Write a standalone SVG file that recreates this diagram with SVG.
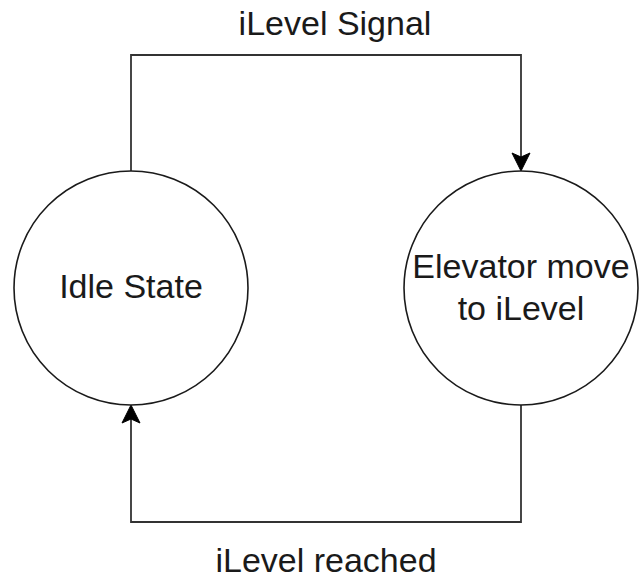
<svg xmlns="http://www.w3.org/2000/svg" width="639" height="582" viewBox="0 0 639 582">
<style>
.node{fill:#fff;stroke:#1a1a1a;stroke-width:1.6}
.edge{fill:none;stroke:#333;stroke-width:1.8}
.head{fill:#000;stroke:#000;stroke-width:1}
text{font-family:"Liberation Sans",Arial,sans-serif;font-size:34px;fill:#1a1a1a;text-anchor:middle}
</style>
<rect width="639" height="582" fill="#fff"/>
<g id="connectors">
<path class="edge" d="M131,171 V55 H521 V158"/>
<path class="head" d="M521,171 L512,153 L521,157 L530,153 Z"/>
<path class="edge" d="M521,405 V522 H131 V418"/>
<path class="head" d="M131,405 L122,423 L131,419 L140,423 Z"/>
<text x="335" y="35">iLevel Signal</text>
<text x="326" y="572">iLevel reached</text>
</g>
<g id="idle">
<circle class="node" cx="131" cy="288" r="117"/>
<text x="131" y="298">Idle State</text>
</g>
<g id="move">
<circle class="node" cx="521" cy="288" r="117"/>
<text x="521" y="278">Elevator move</text>
<text x="521" y="320">to iLevel</text>
</g>
</svg>
